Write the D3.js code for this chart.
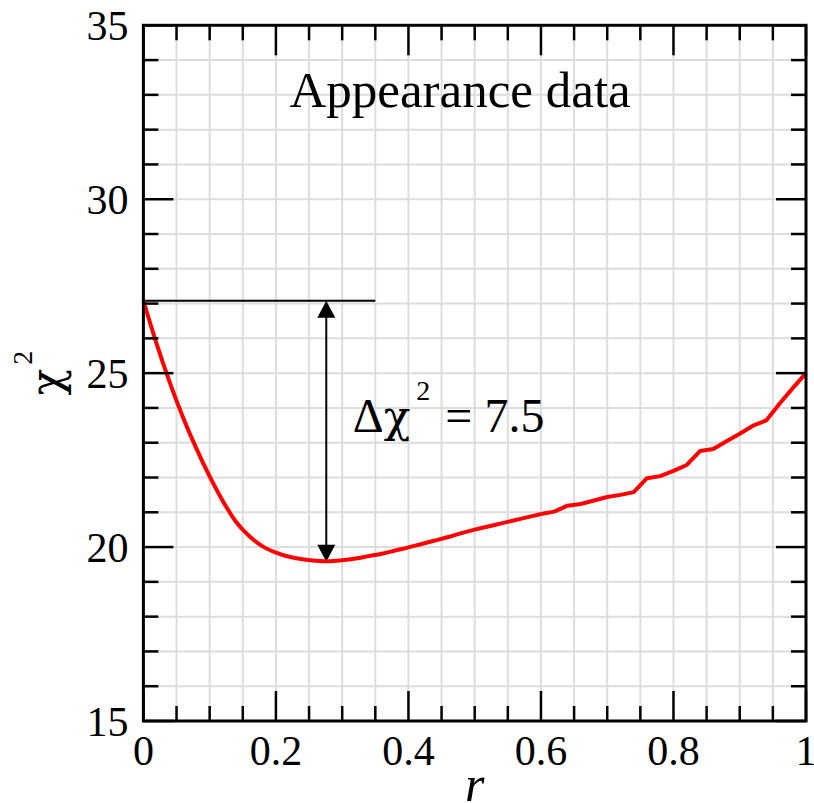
<!DOCTYPE html>
<html><head><meta charset="utf-8">
<script src="https://cdn.jsdelivr.net/npm/d3@7"></script>
<style>
body{margin:0;background:#fff}
text{font-family:"Liberation Serif","Times New Roman",serif;fill:#000}
.greek{font-family:"DejaVu Serif","Liberation Serif",serif}
</style>
</head><body>
<svg id="chart" width="814" height="803"></svg>
<script>
// ---- data ----
const rValues = [0,0.02,0.04,0.06,0.08,0.10,0.12,0.14,0.16,0.18,0.20,0.22,0.24,0.26,0.28,0.30,0.32,0.34,0.36,0.38,0.40,0.42,0.44,0.46,0.48,0.50,0.52,0.54,0.56,0.58,0.60,0.62,0.64,0.66,0.68,0.70,0.72,0.74,0.76,0.78,0.80,0.82,0.84,0.86,0.88,0.90,0.92,0.94,0.96,0.98,1.00];
const chi2Values = [27.08,25.84,24.72,23.72,22.83,22.03,21.32,20.72,20.31,20.02,19.84,19.72,19.65,19.61,19.59,19.62,19.67,19.74,19.81,19.90,19.99,20.09,20.19,20.29,20.40,20.50,20.59,20.68,20.77,20.86,20.95,21.02,21.19,21.24,21.34,21.44,21.50,21.58,21.98,22.04,22.19,22.36,22.76,22.82,23.04,23.26,23.49,23.64,24.12,24.57,25.00];
const xTickValues = [0,0.2,0.4,0.6,0.8,1];
const xTickLabels = ["0","0.2","0.4","0.6","0.8","1"];
const yTickValues = [15,20,25,30,35];
const yTickLabels = ["15","20","25","30","35"];
const titleText = "Appearance data";
const chi2Top = 27.08, chi2Min = 19.58, deltaText = "7.5";
const arrowR = 0.276, refLineEndR = 0.35, smoothUntilR = 0.6;

// ---- layout ----
const svg = d3.select("#chart");
const L = 143.4, R = 806, T = 25.3, B = 721;
const x = d3.scaleLinear().domain([0,1]).range([L,R]);
const y = d3.scaleLinear().domain([15,35]).range([B,T]);
const minorX = d3.range(0,1.0001,0.05);
const minorY = d3.range(15,35.001,1);

// grid
const grid = svg.append("g");
grid.selectAll("line.gx").data(minorX.slice(1,-1)).join("line")
  .attr("x1",d=>x(d)).attr("x2",d=>x(d)).attr("y1",T).attr("y2",B)
  .attr("stroke","#dddddd").attr("stroke-width",2);
grid.selectAll("line.gy").data(minorY.slice(1,-1)).join("line")
  .attr("y1",d=>y(d)).attr("y2",d=>y(d)).attr("x1",L).attr("x2",R)
  .attr("stroke","#dddddd").attr("stroke-width",2);

// title
svg.append("text").attr("x",x(0.478)).attr("y",y(32.66))
  .attr("text-anchor","middle").attr("font-size",51).text(titleText);

// reference line and arrow
svg.append("line").attr("x1",x(0)).attr("x2",x(refLineEndR))
  .attr("y1",y(chi2Top)).attr("y2",y(chi2Top)).attr("stroke","#000").attr("stroke-width",2);
const ax = x(arrowR), ay1 = y(chi2Top), ay2 = y(chi2Min), hw = 9, hh = 17;
svg.append("line").attr("x1",ax).attr("x2",ax).attr("y1",ay1+hh-2).attr("y2",ay2-hh+2)
  .attr("stroke","#000").attr("stroke-width",2);
svg.append("path").attr("d",`M${ax},${ay1}L${ax-hw},${ay1+hh}L${ax+hw},${ay1+hh}Z`).attr("fill","#000");
svg.append("path").attr("d",`M${ax},${ay2}L${ax-hw},${ay2-hh}L${ax+hw},${ay2-hh}Z`).attr("fill","#000");

// delta label
const dt = svg.append("text").attr("x",x(0.316)).attr("y",y(23.32)).attr("font-size",48);
dt.append("tspan").text("Δ");
dt.append("tspan").attr("class","greek").attr("font-size",44).text("χ");
dt.append("tspan").attr("font-size",28).attr("dx",6).attr("dy",-32).text("2");
dt.append("tspan").attr("dy",32).attr("dx",3).text(" = " + deltaText);

// data line: smooth part + piecewise-linear part
const pts = rValues.map((r,i)=>[r,chi2Values[i]]);
const smoothPts = pts.filter(p=>p[0]<=smoothUntilR+1e-9);
const linPts = pts.filter(p=>p[0]>=smoothUntilR-1e-9);
svg.append("path").datum(smoothPts)
  .attr("d",d3.line().curve(d3.curveMonotoneX).x(d=>x(d[0])).y(d=>y(d[1])))
  .attr("fill","none").attr("stroke","#ff0000").attr("stroke-width",4).attr("stroke-linejoin","round");
svg.append("path").datum(linPts)
  .attr("d",d3.line().x(d=>x(d[0])).y(d=>y(d[1])))
  .attr("fill","none").attr("stroke","#ff0000").attr("stroke-width",4).attr("stroke-linejoin","round");

// ticks (inward on all four sides)
const tk = svg.append("g").attr("stroke","#000").attr("stroke-width",2.5);
function ticksX(vals,len){
  tk.selectAll(null).data(vals).join("line").attr("x1",d=>x(d)).attr("x2",d=>x(d)).attr("y1",B).attr("y2",B-len);
  tk.selectAll(null).data(vals).join("line").attr("x1",d=>x(d)).attr("x2",d=>x(d)).attr("y1",T).attr("y2",T+len);
}
function ticksY(vals,len){
  tk.selectAll(null).data(vals).join("line").attr("y1",d=>y(d)).attr("y2",d=>y(d)).attr("x1",L).attr("x2",L+len);
  tk.selectAll(null).data(vals).join("line").attr("y1",d=>y(d)).attr("y2",d=>y(d)).attr("x1",R).attr("x2",R-len);
}
ticksX(minorX.filter(v=>!xTickValues.some(m=>Math.abs(m-v)<1e-6)),15);
ticksX(xTickValues,30);
ticksY(minorY.filter(v=>!yTickValues.includes(v)),15);
ticksY(yTickValues,30);

// frame
svg.append("rect").attr("x",L).attr("y",T).attr("width",R-L).attr("height",B-T)
  .attr("fill","none").attr("stroke","#000").attr("stroke-width",3);

// tick labels
svg.append("g").selectAll("text").data(xTickValues).join("text")
  .attr("x",d=>x(d)).attr("y",B+44).attr("text-anchor","middle").attr("font-size",42)
  .text((d,i)=>xTickLabels[i]);
svg.append("g").selectAll("text").data(yTickValues).join("text")
  .attr("x",L-15).attr("y",d=>y(d)+15).attr("text-anchor","end").attr("font-size",42)
  .text((d,i)=>yTickLabels[i]);

// axis titles
const yl = svg.append("text").attr("transform",`translate(62,${(T+B)/2}) rotate(-90)`)
  .attr("text-anchor","middle").attr("font-size",44);
yl.append("tspan").attr("class","greek").text("χ");
yl.append("tspan").attr("font-size",28).attr("dx",4).attr("dy",-30).text("2");
svg.append("text").attr("x",(L+R)/2).attr("y",801).attr("text-anchor","middle")
  .attr("font-size",50).attr("font-style","italic").text("r");
</script>
</body></html>
